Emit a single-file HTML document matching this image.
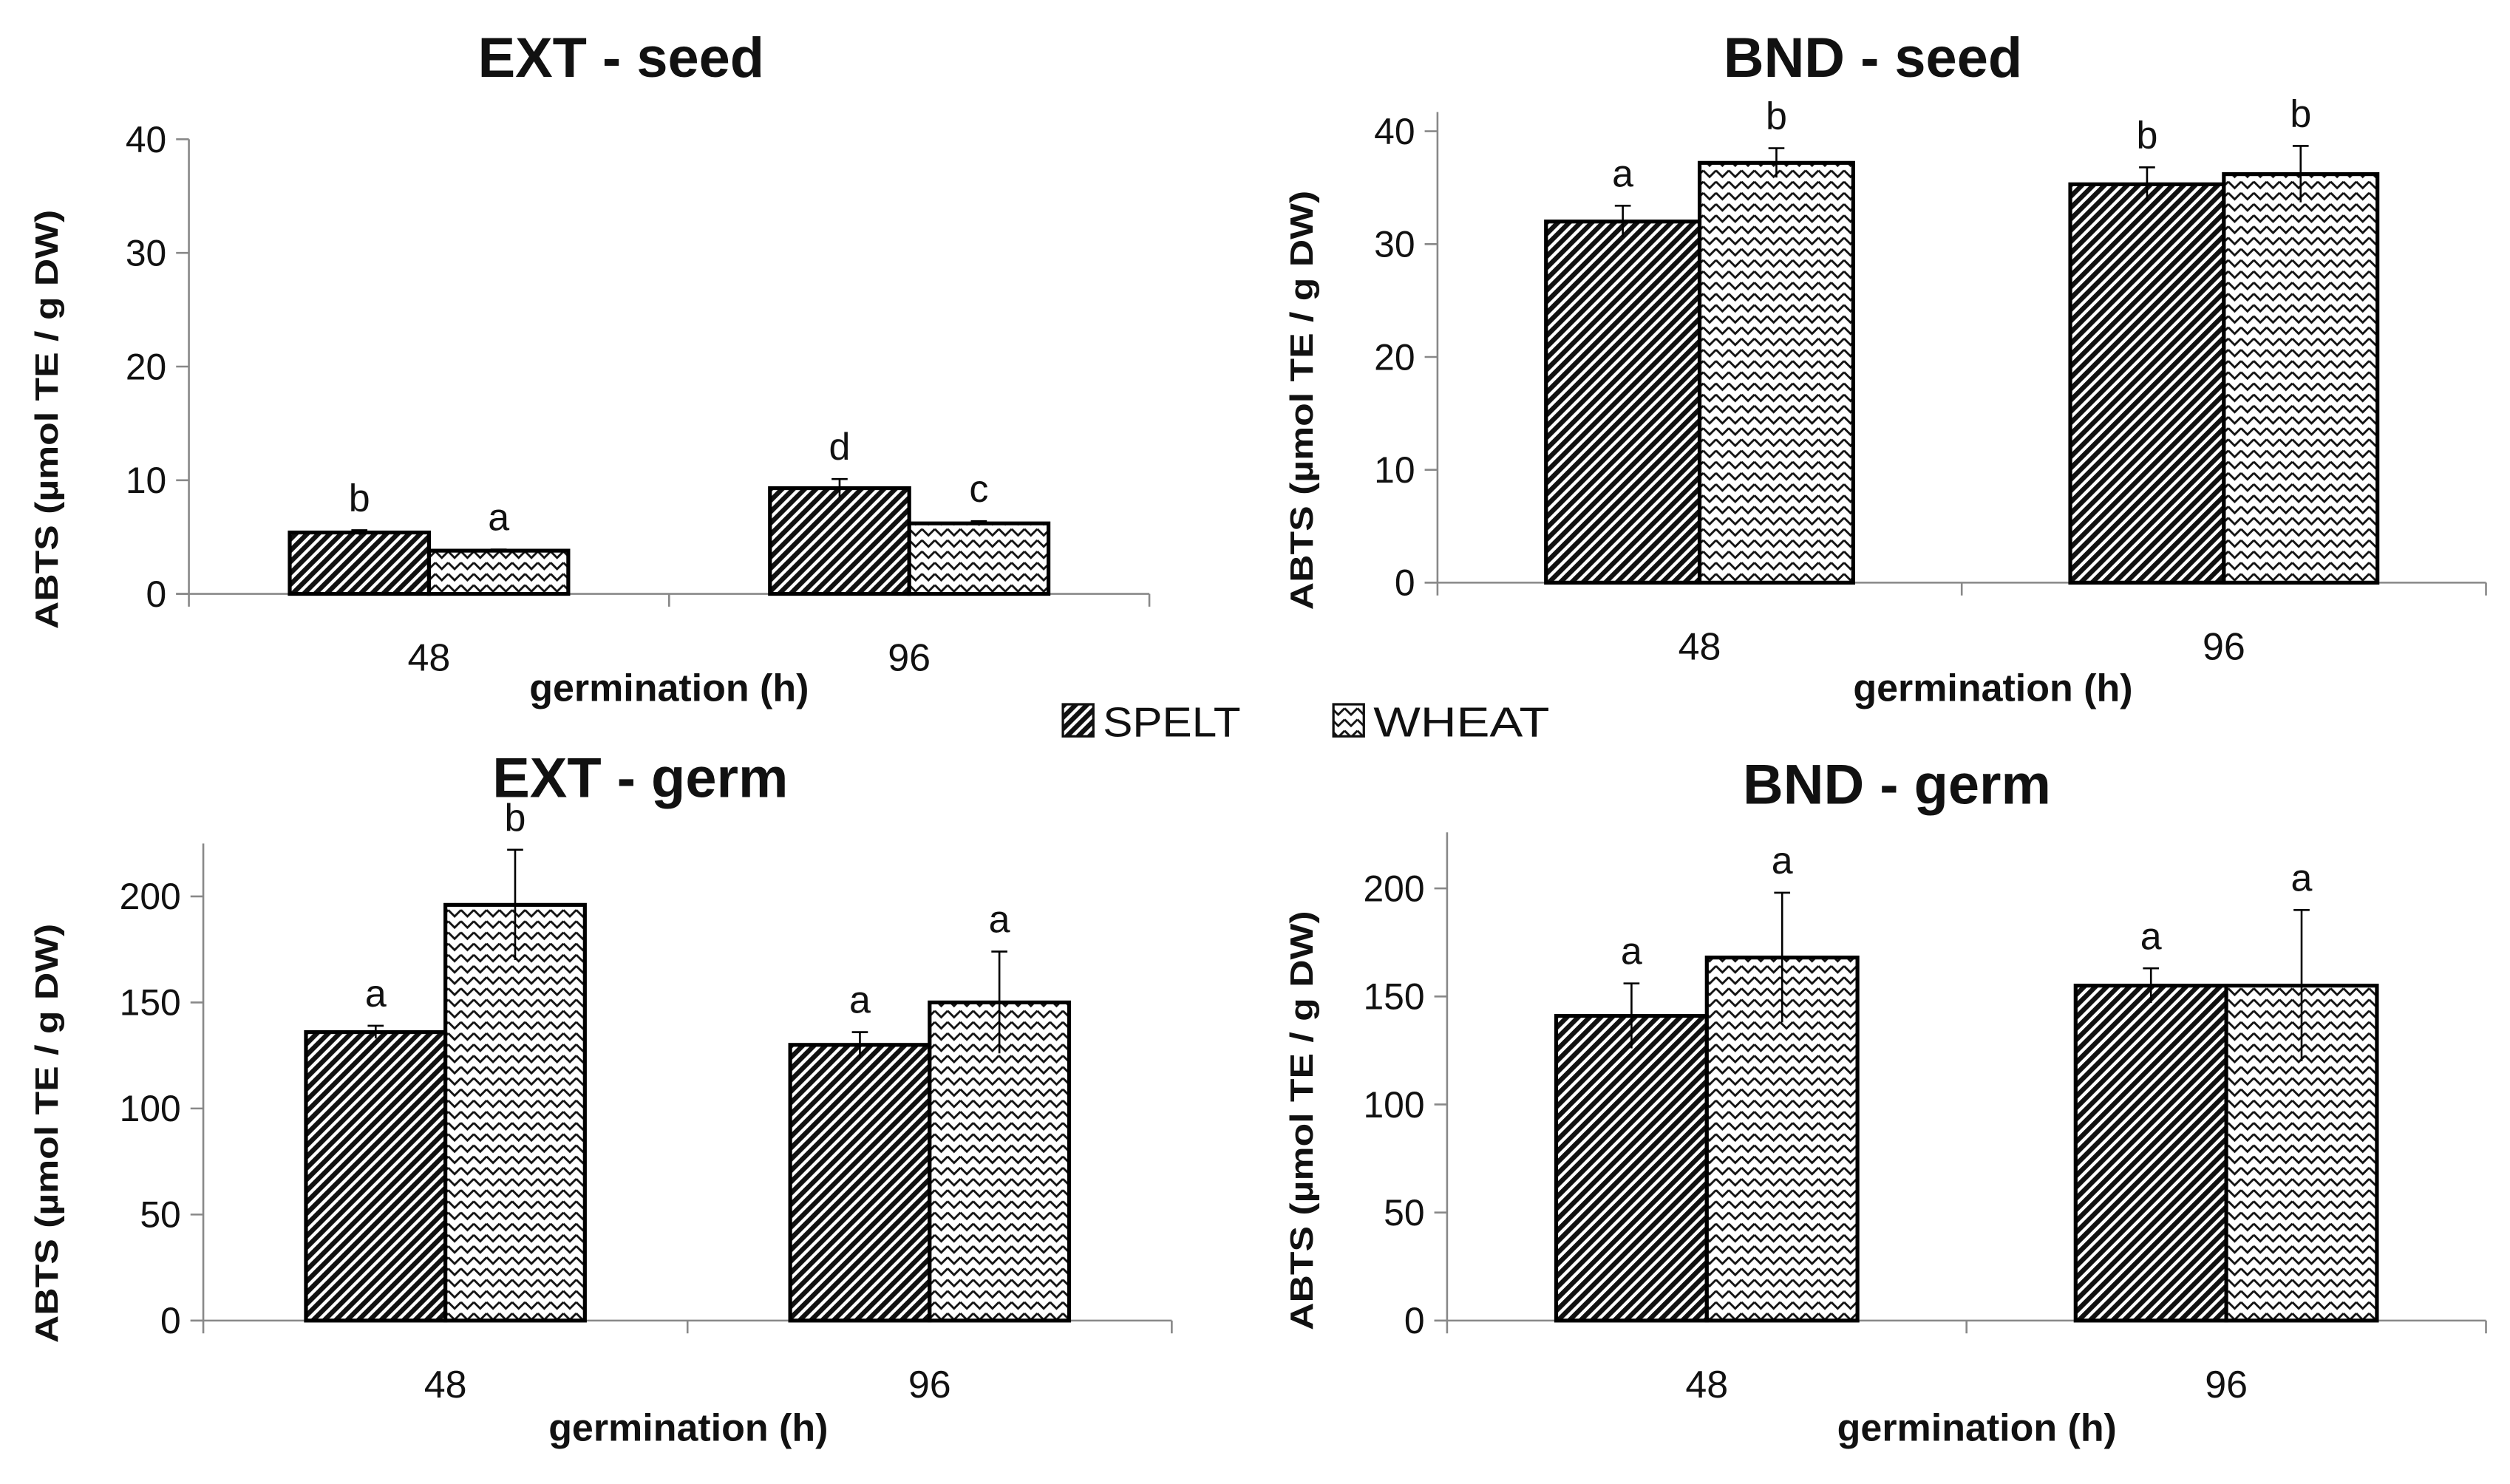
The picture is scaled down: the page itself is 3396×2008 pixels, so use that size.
<!DOCTYPE html>
<html><head><meta charset="utf-8"><style>
html,body{margin:0;padding:0;background:#fff}
svg{display:block}
text{font-family:"Liberation Sans",sans-serif;fill:#111}
</style></head><body>
<svg id="chart" width="3396" height="2008" viewBox="0 0 1568 927.1" preserveAspectRatio="none" xmlns="http://www.w3.org/2000/svg">
<defs>
<pattern id="spelt" patternUnits="userSpaceOnUse" width="5" height="5" patternTransform="rotate(45)">
<rect width="5" height="5" fill="#fff"/><rect width="3" height="5" fill="#111"/>
</pattern>
<pattern id="wheat" patternUnits="userSpaceOnUse" width="8" height="7">
<rect width="8" height="7" fill="#fff"/><polyline points="0,1.5 4,5.5 8,1.5" fill="none" stroke="#111" stroke-width="1.3"/>
</pattern>
</defs>
<g id="panels"></g>
<g>
<rect x="664" y="440" width="19" height="20" fill="url(#spelt)" stroke="#111" stroke-width="1.5"/>
<text x="689" y="460" font-size="26" textLength="86" lengthAdjust="spacingAndGlyphs">SPELT</text>
<rect x="833" y="440" width="19" height="20" fill="url(#wheat)" stroke="#111" stroke-width="1.5"/>
<text x="858" y="460" font-size="26" textLength="110" lengthAdjust="spacingAndGlyphs">WHEAT</text>
</g>
</svg>
<script>
const categories = ["48", "96"];
const extSeedSpelt = [5.4, 9.3];
const extSeedSpeltErr = [0.2, 0.8];
const extSeedWheat = [3.8, 6.2];
const extSeedWheatErr = [0.1, 0.2];
const extSeedLetters = [["b","a"],["d","c"]];
const extSeedTicks = [0, 10, 20, 30, 40];
const bndSeedSpelt = [32.0, 35.3];
const bndSeedSpeltErr = [1.4, 1.5];
const bndSeedWheat = [37.2, 36.2];
const bndSeedWheatErr = [1.3, 2.5];
const bndSeedLetters = [["a","b"],["b","b"]];
const bndSeedTicks = [0, 10, 20, 30, 40];
const extGermSpelt = [136, 130];
const extGermSpeltErr = [3, 6];
const extGermWheat = [196, 150];
const extGermWheatErr = [26, 24];
const extGermLetters = [["a","b"],["a","a"]];
const extGermTicks = [0, 50, 100, 150, 200];
const bndGermSpelt = [141, 155];
const bndGermSpeltErr = [15, 8];
const bndGermWheat = [168, 155];
const bndGermWheatErr = [30, 35];
const bndGermLetters = [["a","a"],["a","a"]];
const bndGermTicks = [0, 50, 100, 150, 200];

const NS = "http://www.w3.org/2000/svg";
const root = document.getElementById("panels");
function mk(tag, attrs, parent, txt){
  const e = document.createElementNS(NS, tag);
  for (const k in attrs) e.setAttribute(k, attrs[k]);
  if (txt !== undefined) e.textContent = txt;
  parent.appendChild(e);
  return e;
}
function panel(cfg){
  const g = mk("g", {}, root);
  
  
  const tmax = cfg.ticks[cfg.ticks.length-1];
  const y = v => cfg.y0 - (v / tmax) * (cfg.y0 - cfg.yTop);
  const groupW = (cfg.x1 - cfg.x0) / categories.length;
  const barW = groupW * cfg.barFrac;
  const cx = i => cfg.x0 + groupW * (i + 0.5);
  const ya = mk("line", {x1:cfg.x0, x2:cfg.x0, y1:cfg.axisTop, y2:cfg.y0, stroke:"#888", "stroke-width":1.2}, g);
  
  
  const xa = mk("line", {x1:cfg.x0-8, x2:cfg.x1, y1:cfg.y0, y2:cfg.y0, stroke:"#888", "stroke-width":1.2}, g);
  
  
  for (let i = 0; i <= categories.length; i++){
    const xx = cfg.x0 + groupW * i;
    const tk = mk("line", {x1:xx, x2:xx, y1:cfg.y0, y2:cfg.y0+8, stroke:"#888", "stroke-width":1.2}, g);
    
    
  }
  cfg.ticks.forEach(t => {
    const tl = mk("line", {x1:cfg.x0-8, x2:cfg.x0, y1:y(t), y2:y(t), stroke:"#888", "stroke-width":1.2}, g);
    
    
    const tx = mk("text", {x:cfg.x0-14, y:y(t)+8, "font-size":23, "text-anchor":"end"}, g, String(t));
    
    
  });
  categories.forEach((c, i) => {
    const series = [[cfg.spelt, cfg.speltErr, "url(#spelt)", "spelt"], [cfg.wheat, cfg.wheatErr, "url(#wheat)", "wheat"]];
    series.forEach((s, j) => {
      const v = s[0][i], e = s[1][i];
      const bx = cx(i) - barW + j * barW;
      const r = mk("rect", {x:bx, y:y(v), width:barW, height:cfg.y0 - y(v), fill:s[2], stroke:"#000", "stroke-width":2.4}, g);
      
      
      const mx = bx + barW/2;
      const eb = mk("path", {d:`M${mx},${y(v-e)}V${y(v+e)}M${mx-5},${y(v+e)}H${mx+5}`, stroke:"#000", "stroke-width":1.2, fill:"none"}, g);
      
      
      const lt = mk("text", {x:mx, y:y(v+e) - 12, "font-size":24, "text-anchor":"middle"}, g, cfg.letters[i][j]);
      
      
    });
    const cl = mk("text", {x:cx(i), y:cfg.y0 + 48, "font-size":24, "text-anchor":"middle"}, g, c);
    
    
  });
  const ti = mk("text", {x:cfg.titleX, y:cfg.titleY, "font-size":35, "font-weight":"bold", "text-anchor":"middle"}, g, cfg.title);
  
  
  const xl = mk("text", {x:cfg.xlabX, y:cfg.xlabY, "font-size":24, "font-weight":"bold", "text-anchor":"middle"}, g, "germination (h)");
  
  
  const yl = mk("text", {x:0, y:0, "font-size":20, "font-weight":"bold", "text-anchor":"middle", textLength:262, lengthAdjust:"spacingAndGlyphs", transform:`translate(${cfg.ylabX},${cfg.ylabY}) rotate(-90)`}, g, "ABTS (\u00b5mol TE / g DW)");
  
  
}
panel({name:"panel-ext-seed", title:"EXT - seed", titleX:388, titleY:48, x0:118, x1:718, y0:371, yTop:87, axisTop:87, barFrac:0.29,
  spelt:extSeedSpelt, speltErr:extSeedSpeltErr, wheat:extSeedWheat, wheatErr:extSeedWheatErr, letters:extSeedLetters, ticks:extSeedTicks,
  xlabX:418, xlabY:438, ylabX:36, ylabY:262});
panel({name:"panel-bnd-seed", title:"BND - seed", titleX:1170, titleY:48, x0:898, x1:1553, y0:364, yTop:82, axisTop:70, barFrac:0.293,
  spelt:bndSeedSpelt, speltErr:bndSeedSpeltErr, wheat:bndSeedWheat, wheatErr:bndSeedWheatErr, letters:bndSeedLetters, ticks:bndSeedTicks,
  xlabX:1245, xlabY:438, ylabX:820, ylabY:250});
panel({name:"panel-ext-germ", title:"EXT - germ", titleX:400, titleY:498, x0:127, x1:732, y0:825, yTop:560, axisTop:527, barFrac:0.288,
  spelt:extGermSpelt, speltErr:extGermSpeltErr, wheat:extGermWheat, wheatErr:extGermWheatErr, letters:extGermLetters, ticks:extGermTicks,
  xlabX:430, xlabY:900, ylabX:36, ylabY:708});
panel({name:"panel-bnd-germ", title:"BND - germ", titleX:1185, titleY:502, x0:904, x1:1553, y0:825, yTop:555, axisTop:520, barFrac:0.29,
  spelt:bndGermSpelt, speltErr:bndGermSpeltErr, wheat:bndGermWheat, wheatErr:bndGermWheatErr, letters:bndGermLetters, ticks:bndGermTicks,
  xlabX:1235, xlabY:900, ylabX:820, ylabY:700});
</script>
</body></html>
